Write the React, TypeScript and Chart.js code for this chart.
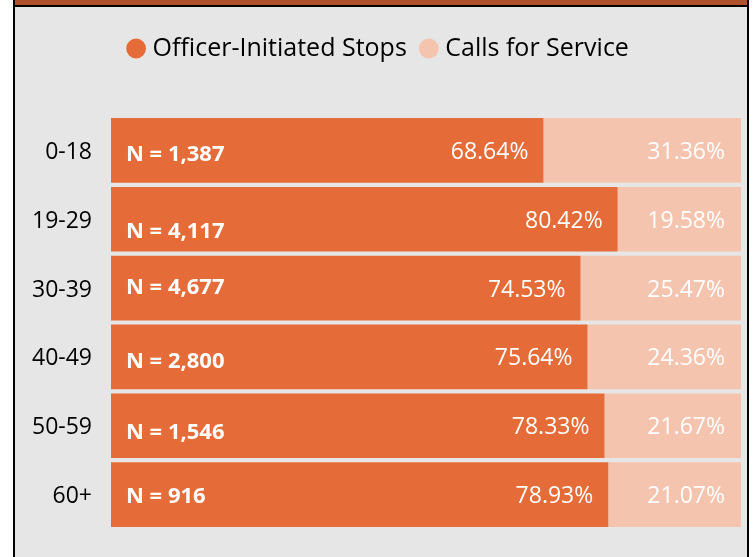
import React, { useEffect, useRef } from "react";
import { Chart, registerables } from "chart.js";

Chart.register(...registerables);

const ageGroups = ["0-18", "19-29", "30-39", "40-49", "50-59", "60+"];
const officerInitiated = [68.64, 80.42, 74.53, 75.64, 78.33, 78.93];
const callsForService = [31.36, 19.58, 25.47, 24.36, 21.67, 21.07];
const sampleSizes = ["1,387", "4,117", "4,677", "2,800", "1,546", "916"];
const nLabelDy = [4, 12, 0, 5, 7, 2];

const ORANGE = "#e56c39";
const LIGHT = "#f5c4ae";
const FONT = "'Open Sans', 'Noto Sans', sans-serif";

const legendPatchPlugin = {
  id: "legendPatch",
  beforeInit(chart: any) {
    const lg = chart.legend;
    if (lg) {
      const origFit = lg.fit;
      lg.fit = function () {
        origFit.call(this);
        this.height = 92;
      };
      const origDraw = lg.draw;
      lg.draw = function (...args: any[]) {
        const c = this.ctx;
        c.save();
        c.translate(10, -6);
        origDraw.apply(this, args);
        c.restore();
      };
    }
  },
};

const labelPlugin = {
  id: "barLabels",
  afterDatasetsDraw(chart: any) {
    const ctx = chart.ctx;
    ctx.save();
    ctx.fillStyle = "#ffffff";
    ctx.textBaseline = "middle";
    const m0 = chart.getDatasetMeta(0);
    const m1 = chart.getDatasetMeta(1);
    ctx.font = `23px ${FONT}`;
    ctx.textAlign = "right";
    m0.data.forEach((bar: any, i: number) => {
      ctx.fillText(officerInitiated[i].toFixed(2) + "%", bar.x - 15, bar.y + 2);
    });
    m1.data.forEach((bar: any, i: number) => {
      ctx.fillText(callsForService[i].toFixed(2) + "%", bar.x - 16, bar.y + 2);
    });
    ctx.font = `bold 22px ${FONT}`;
    ctx.textAlign = "left";
    m0.data.forEach((bar: any, i: number) => {
      ctx.fillText("N = " + sampleSizes[i], bar.base + 15, bar.y + nLabelDy[i]);
    });
    ctx.restore();
  },
};

export default function App() {
  const ref = useRef<HTMLCanvasElement>(null);
  useEffect(() => {
    document.body.style.margin = "0";
    const chart = new Chart(ref.current as HTMLCanvasElement, {
      type: "bar",
      data: {
        labels: ageGroups,
        datasets: [
          {
            label: "Officer-Initiated Stops",
            data: officerInitiated,
            backgroundColor: ORANGE,
            borderWidth: 0,
            barPercentage: 0.94,
            categoryPercentage: 1,
          },
          {
            label: "Calls for Service",
            data: callsForService,
            backgroundColor: LIGHT,
            borderWidth: 0,
            barPercentage: 0.94,
            categoryPercentage: 1,
          },
        ],
      },
      options: {
        indexAxis: "y",
        animation: false,
        responsive: false,
        maintainAspectRatio: false,
        layout: { padding: { top: 24, right: 12, left: 0, bottom: 28 } },
        plugins: {
          tooltip: { enabled: false },
          legend: {
            position: "top",
            align: "center",
            labels: {
              usePointStyle: true,
              pointStyle: "circle",
              boxWidth: 8,
              boxHeight: 14,
              padding: 18,
              color: "#000000",
              font: { family: FONT, size: 25 },
            },
          },
        },
        scales: {
          x: {
            stacked: true,
            min: 0,
            max: 100,
            display: false,
          },
          y: {
            stacked: true,
            grid: { display: false },
            border: { display: false },
            ticks: {
              padding: 11,
              labelOffset: 2,
              color: "#000000",
              font: { family: FONT, size: 23 },
            },
            afterFit(scale: any) {
              scale.width = 111;
            },
          },
        },
      },
      plugins: [legendPatchPlugin, labelPlugin],
    } as any);
    return () => chart.destroy();
  }, []);

  return (
    <div style={{ position: "absolute", left: 0, top: 0, width: 753, height: 557, background: "#ffffff", overflow: "hidden" }}>
      <div
        style={{
          position: "absolute",
          left: 13,
          top: 0,
          width: 732,
          height: 557,
          background: "#e6e6e6",
          borderLeft: "2px solid #000",
          borderRight: "2px solid #000",
        }}
      />
      <div style={{ position: "absolute", left: 15, top: 0, width: 732, height: 5, background: "#b0512a" }} />
      <div style={{ position: "absolute", left: 15, top: 5, width: 732, height: 2, background: "#000" }} />
      <canvas ref={ref} width={753} height={557} style={{ position: "absolute", left: 0, top: 0 }} />
    </div>
  );
}
